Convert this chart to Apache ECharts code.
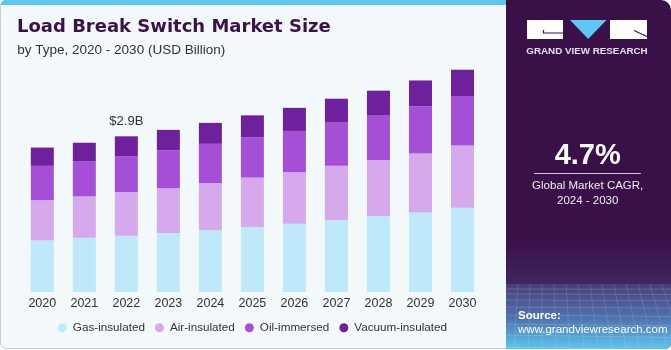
<!DOCTYPE html>
<html>
<head>
<meta charset="utf-8">
<script src="https://cdn.jsdelivr.net/npm/echarts@6/dist/echarts.min.js"></script>
<style>
html,body{margin:0;padding:0;background:#ffffff;}
#chart{width:671px;height:350px;}
</style>
</head>
<body>
<div id="chart"></div>
<script>
const years = ['2020','2021','2022','2023','2024','2025','2026','2027','2028','2029','2030'];
const gasInsulated    = [0.96, 1.01, 1.05, 1.10, 1.15, 1.21, 1.27, 1.34, 1.41, 1.48, 1.57];
const airInsulated    = [0.75, 0.77, 0.81, 0.83, 0.88, 0.92, 0.96, 1.01, 1.05, 1.10, 1.16];
const oilImmersed     = [0.64, 0.65, 0.67, 0.71, 0.73, 0.75, 0.77, 0.81, 0.83, 0.88, 0.91];
const vacuumInsulated = [0.34, 0.35, 0.37, 0.38, 0.39, 0.41, 0.43, 0.44, 0.46, 0.48, 0.50];
const seriesNames = ['Gas-insulated','Air-insulated','Oil-immersed','Vacuum-insulated'];
const annotatedIndex = 2;
const annotationText = '$2.9B';

const colors = ['#bfe9f9','#d5a9eb','#a44fd6','#6e209d'];
const panelColor = '#3a1049';

const chart = echarts.init(document.getElementById('chart'), null, {renderer:'canvas'});

function mkSeries(name, data, idx){
  return {
    name: name,
    type: 'bar',
    stack: 'total',
    barWidth: 23,
    data: data.map((v,i)=>{
      if (idx === 3 && i === annotatedIndex) {
        return {value: v, label: {show: true, position: 'top', distance: 8, formatter: annotationText,
          color: '#333', fontSize: 13, fontFamily: 'Liberation Sans'}};
      }
      return v;
    }),
    itemStyle: {color: colors[idx]},
    emphasis: {disabled: true},
    silent: true
  };
}

const decoLines = [];
[289,294,300,307,315,324,335,347].forEach(y=>{
  decoLines.push({type:'line', shape:{x1:506,y1:y,x2:671,y2:y+ (y-285)*0.05}, style:{stroke:'rgba(255,255,255,0.16)', lineWidth:1}, silent:true});
});
for (let k=0;k<14;k++){
  const xb = 500 + k*14;
  decoLines.push({type:'line', shape:{x1:506 + k*12, y1:284, x2:xb, y2:349}, style:{stroke:'rgba(255,255,255,0.12)', lineWidth:1}, silent:true});
}

const option = {
  animation: false,
  backgroundColor: '#ffffff',
  grid: {left: 21.3, right: 187.5, top: 50.4, bottom: 58, containLabel: false},
  xAxis: {
    type: 'category',
    data: years,
    axisLine: {show: false},
    axisTick: {show: false},
    axisLabel: {color: '#333', fontSize: 12.5, fontFamily: 'Liberation Sans', margin: 5}
  },
  yAxis: {type: 'value', min: 0, max: 4.5, show: false, splitLine: {show: false}},
  legend: {
    data: seriesNames,
    left: 57.8,
    top: 321.8,
    padding: 0,
    icon: 'circle',
    itemWidth: 9,
    itemHeight: 9,
    itemGap: 10,
    textStyle: {color: '#333', fontSize: 11.7, fontFamily: 'Liberation Sans', padding: [0,0,0,1]},
    selectedMode: false
  },
  color: colors,
  series: [
    mkSeries(seriesNames[0], gasInsulated, 0),
    mkSeries(seriesNames[1], airInsulated, 1),
    mkSeries(seriesNames[2], oilImmersed, 2),
    mkSeries(seriesNames[3], vacuumInsulated, 3)
  ],
  graphic: [
    {type:'group', z: -10, zlevel: 0, children: [
      {type:'rect', shape:{x:0.5,y:0.5,width:520,height:348,r:6}, style:{fill:'#f3f8fb', stroke:'#cdcdcd', lineWidth:1}, silent:true},
      {type:'rect', shape:{x:0.5,y:0,width:520,height:5,r:[6,0,0,0]}, style:{fill:'#5ec6ef'}, silent:true},
      {type:'rect', shape:{x:506,y:0,width:165,height:349,r:[0,10,6,0]}, style:{fill:panelColor}, silent:true},
      {type:'rect', shape:{x:506,y:240,width:165,height:44}, style:{fill:{type:'linear',x:0,y:0,x2:0,y2:1,colorStops:[{offset:0,color:panelColor},{offset:1,color:'#41265f'}]}}, silent:true},
      {type:'rect', shape:{x:506,y:284,width:165,height:65,r:[0,0,6,0]}, style:{fill:{type:'linear',x:0,y:0,x2:0,y2:1,colorStops:[{offset:0,color:'#4b3c78'},{offset:0.55,color:'#4f76b2'},{offset:1,color:'#5ec6f0'}]}}, silent:true}
    ].concat(decoLines)},
    {type:'text', x: 17, y: 27.5, style:{text:'Load Break Switch Market Size', fill:'#3b1149', font:'bold 18px "DejaVu Sans"', textVerticalAlign:'middle', textAlign:'left'}, silent:true},
    {type:'text', x: 17.3, y: 50, style:{text:'by Type, 2020 - 2030 (USD Billion)', fill:'#333333', font:'13.5px "Liberation Sans"', textVerticalAlign:'middle', textAlign:'left'}, silent:true},
    // logo
    {type:'rect', shape:{x:527,y:20,width:36,height:19}, style:{fill:'#ffffff'}, silent:true},
    {type:'polyline', shape:{points:[[543.5,30],[543.5,33],[563,33]]}, style:{stroke:panelColor, lineWidth:1.2, fill:null}, silent:true},
    {type:'polygon', shape:{points:[[570,20],[606.5,20],[588.2,39]]}, style:{fill:'#5bc8f5'}, silent:true},
    {type:'rect', shape:{x:610,y:20,width:37,height:19}, style:{fill:'#ffffff'}, silent:true},
    {type:'line', shape:{x1:634,y1:30.5,x2:647,y2:36.5}, style:{stroke:panelColor, lineWidth:1.2}, silent:true},
    {type:'text', x: 587, y: 51.7, style:{text:'GRAND VIEW RESEARCH', fill:'#e6e0ea', font:'bold 9.8px "Liberation Sans"', textAlign:'center', textVerticalAlign:'middle'}, silent:true},
    // CAGR
    {type:'text', x: 587.7, y: 156, style:{text:'4.7%', fill:'#ffffff', font:'bold 29px "Liberation Sans"', textAlign:'center', textVerticalAlign:'middle'}, silent:true},
    {type:'line', shape:{x1:534,y1:173.5,x2:641,y2:173.5}, style:{stroke:'#cfc6d6', lineWidth:1}, silent:true},
    {type:'text', x: 587.7, y: 185.5, style:{text:'Global Market CAGR,', fill:'#f0ecf2', font:'11.5px "Liberation Sans"', textAlign:'center', textVerticalAlign:'middle'}, silent:true},
    {type:'text', x: 587.7, y: 200.7, style:{text:'2024 - 2030', fill:'#f0ecf2', font:'11.5px "Liberation Sans"', textAlign:'center', textVerticalAlign:'middle'}, silent:true},
    // source
    {type:'text', x: 518, y: 316, style:{text:'Source:', fill:'#ffffff', font:'bold 11.5px "Liberation Sans"', textAlign:'left', textVerticalAlign:'middle'}, silent:true},
    {type:'text', x: 518, y: 330, style:{text:'www.grandviewresearch.com', fill:'#ffffff', font:'11.5px "Liberation Sans"', textAlign:'left', textVerticalAlign:'middle'}, silent:true}
  ]
};
chart.setOption(option);
</script>
</body>
</html>
